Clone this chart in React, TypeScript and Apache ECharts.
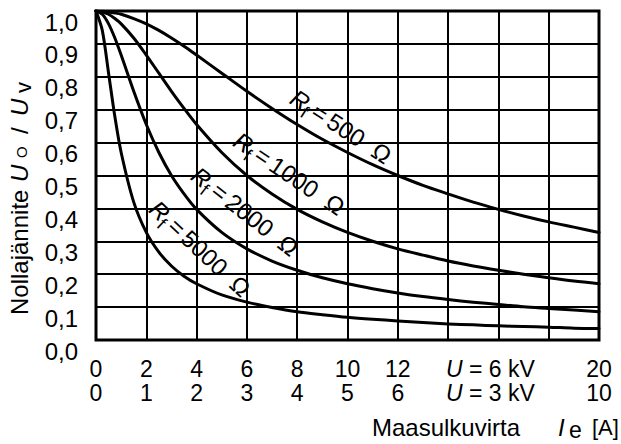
import React, { useEffect, useRef } from "react";
import * as echarts from "echarts";

const FONT = '"Liberation Sans", Arial, sans-serif';

// Earth-fault current Ie [A] at U = 6 kV (x axis)
const currentA = [0, 0.25, 0.5, 0.75, 1, 1.5, 2, 2.5, 3, 3.5, 4, 5, 6, 7, 8, 9, 10, 11, 12, 13, 14, 15, 16, 17, 18, 19, 20];

// Neutral voltage U0 / Uv for each fault resistance Rf
const ratioRf500 = [1, 0.999, 0.997, 0.994, 0.99, 0.977, 0.961, 0.941, 0.918, 0.893, 0.866, 0.811, 0.756, 0.704, 0.655, 0.61, 0.57, 0.533, 0.5, 0.47, 0.444, 0.419, 0.397, 0.377, 0.359, 0.343, 0.327];
const ratioRf1000 = [1, 0.997, 0.99, 0.977, 0.961, 0.918, 0.866, 0.811, 0.756, 0.704, 0.655, 0.57, 0.5, 0.444, 0.397, 0.359, 0.327, 0.3, 0.277, 0.258, 0.24, 0.225, 0.212, 0.2, 0.189, 0.179, 0.171];
const ratioRf2000 = [1, 0.99, 0.961, 0.918, 0.866, 0.756, 0.655, 0.57, 0.5, 0.444, 0.397, 0.327, 0.277, 0.24, 0.212, 0.189, 0.171, 0.156, 0.143, 0.132, 0.123, 0.115, 0.108, 0.101, 0.096, 0.091, 0.086];
const ratioRf5000 = [1, 0.941, 0.811, 0.679, 0.57, 0.419, 0.327, 0.267, 0.225, 0.194, 0.171, 0.137, 0.115, 0.099, 0.086, 0.077, 0.069, 0.063, 0.058, 0.053, 0.049, 0.046, 0.043, 0.041, 0.039, 0.036, 0.035];

// Tick labels: top row U = 6 kV current, bottom row U = 3 kV current
const xTickValues = [0, 2, 4, 6, 8, 10, 12, 14, 16, 18, 20];
const xTopLabels = ["0", "2", "4", "6", "8", "10", "12", "", "{u|U}{k| = 6 kV}", "", "20"];
const xBottomLabels = ["0", "1", "2", "3", "4", "5", "6", "", "{u|U}{k| = 3 kV}", "", "10"];

// Curve captions: resistance, anchor of the "=" sign (data units), slope angle in degrees
const curveRf = ["500", "1000", "2000", "5000"];
const curveLabelAt = [
  [8.91, 0.69],
  [6.64, 0.559],
  [4.93, 0.45],
  [3.22, 0.343],
];
const curveLabelAngle = [33, 34, 38, 43];

const txt = (
  x: number,
  y: number,
  text: string,
  size: number,
  align: string,
  italic = false
) => ({
  type: "text",
  x,
  y,
  style: {
    text,
    fill: "#000",
    fontSize: size,
    fontFamily: FONT,
    fontStyle: italic ? "italic" : "normal",
    textAlign: align,
    align,
    textVerticalAlign: "middle",
    verticalAlign: "middle",
  },
});

export default function App() {
  const ref = useRef<HTMLDivElement>(null);

  useEffect(() => {
    if (!ref.current) return;
    document.body.style.margin = "0";
    const chart = echarts.init(ref.current, undefined, { renderer: "svg" });

    const series = [ratioRf500, ratioRf1000, ratioRf2000, ratioRf5000].map((vals, k) => ({
      type: "line",
      name: "Rf " + curveRf[k],
      data: currentA.map((x, i) => [x, vals[i]]),
      showSymbol: false,
      smooth: 0.3,
      lineStyle: { color: "#000", width: 3, join: "round", cap: "round" },
      silent: true,
    }));

    chart.setOption({
      animation: false,
      textStyle: { fontFamily: FONT, color: "#000" },
      grid: {
        left: 96,
        right: 22,
        top: 11,
        bottom: 104,
        show: true,
        borderColor: "#000",
        borderWidth: 3,
        backgroundColor: "#fff",
        containLabel: false,
        outerBoundsMode: "none",
      },
      xAxis: {
        type: "value",
        min: 0,
        max: 20,
        interval: 2,
        axisLine: { show: false },
        axisTick: { show: false },
        splitLine: { show: true, lineStyle: { color: "#000", width: 2 } },
        axisLabel: {
          margin: 17,
          color: "#000",
          fontSize: 23,
          fontFamily: FONT,
          lineHeight: 24,
          formatter: (v: number) => {
            const i = xTickValues.indexOf(Math.round(v));
            if (i < 0) return "";
            const top = xTopLabels[i];
            const bottom = xBottomLabels[i];
            if (!top && !bottom) return "";
            return top + "\n" + bottom;
          },
          rich: {
            u: { fontStyle: "italic", fontSize: 23, fontFamily: FONT, color: "#000", lineHeight: 24 },
            k: { fontSize: 23, fontFamily: FONT, color: "#000", lineHeight: 24, padding: [0, 16, 0, 0] },
          },
        },
      },
      yAxis: {
        type: "value",
        min: 0,
        max: 1,
        interval: 0.1,
        axisLine: { show: false },
        axisTick: { show: false },
        splitLine: { show: true, lineStyle: { color: "#000", width: 2 } },
        axisLabel: {
          margin: 18,
          color: "#000",
          fontSize: 24,
          fontFamily: FONT,
          lineHeight: 22,
          verticalAlign: "top",
          formatter: (v: number) => v.toFixed(1).replace(".", ","),
        },
      },
      series,
    });

    const captions = curveRf.map((rf, k) => {
      const p = chart.convertToPixel({ gridIndex: 0 }, curveLabelAt[k]) as number[];
      return {
        type: "group",
        x: p[0],
        y: p[1],
        rotation: (-curveLabelAngle[k] * Math.PI) / 180,
        silent: true,
        children: [
          txt(-15, 0, "R", 24, "right", true),
          txt(-11, 8, "f", 18, "right"),
          txt(0, 0, "=", 24, "center"),
          txt(11, 0, rf + "  \u03a9", 24, "left"),
        ],
      };
    });

    const yTitle = {
      type: "group",
      x: 19,
      y: 315,
      rotation: Math.PI / 2,
      silent: true,
      children: [
        txt(0, 0, "Nollajännite", 24, "left"),
        txt(133, 0, "U", 24, "left", true),
        txt(157, 2, "O", 15, "left"),
        txt(181, 0, "/", 24, "left"),
        txt(199, 0, "U", 24, "left", true),
        txt(222, 4, "v", 22, "left"),
      ],
    };

    const xTitle = {
      type: "group",
      silent: true,
      children: [
        txt(372, 427, "Maasulkuvirta", 24, "left"),
        txt(558, 427, "I", 24, "left", true),
        txt(569, 430, "e", 23, "left"),
        txt(592, 427, "[A]", 22, "left"),
      ],
    };

    chart.setOption({ graphic: [...captions, yTitle, xTitle] });

    return () => {
      chart.dispose();
    };
  }, []);

  return (
    <div
      ref={ref}
      style={{ position: "fixed", left: 0, top: 0, width: 621, height: 444, background: "#fff" }}
    />
  );
}
